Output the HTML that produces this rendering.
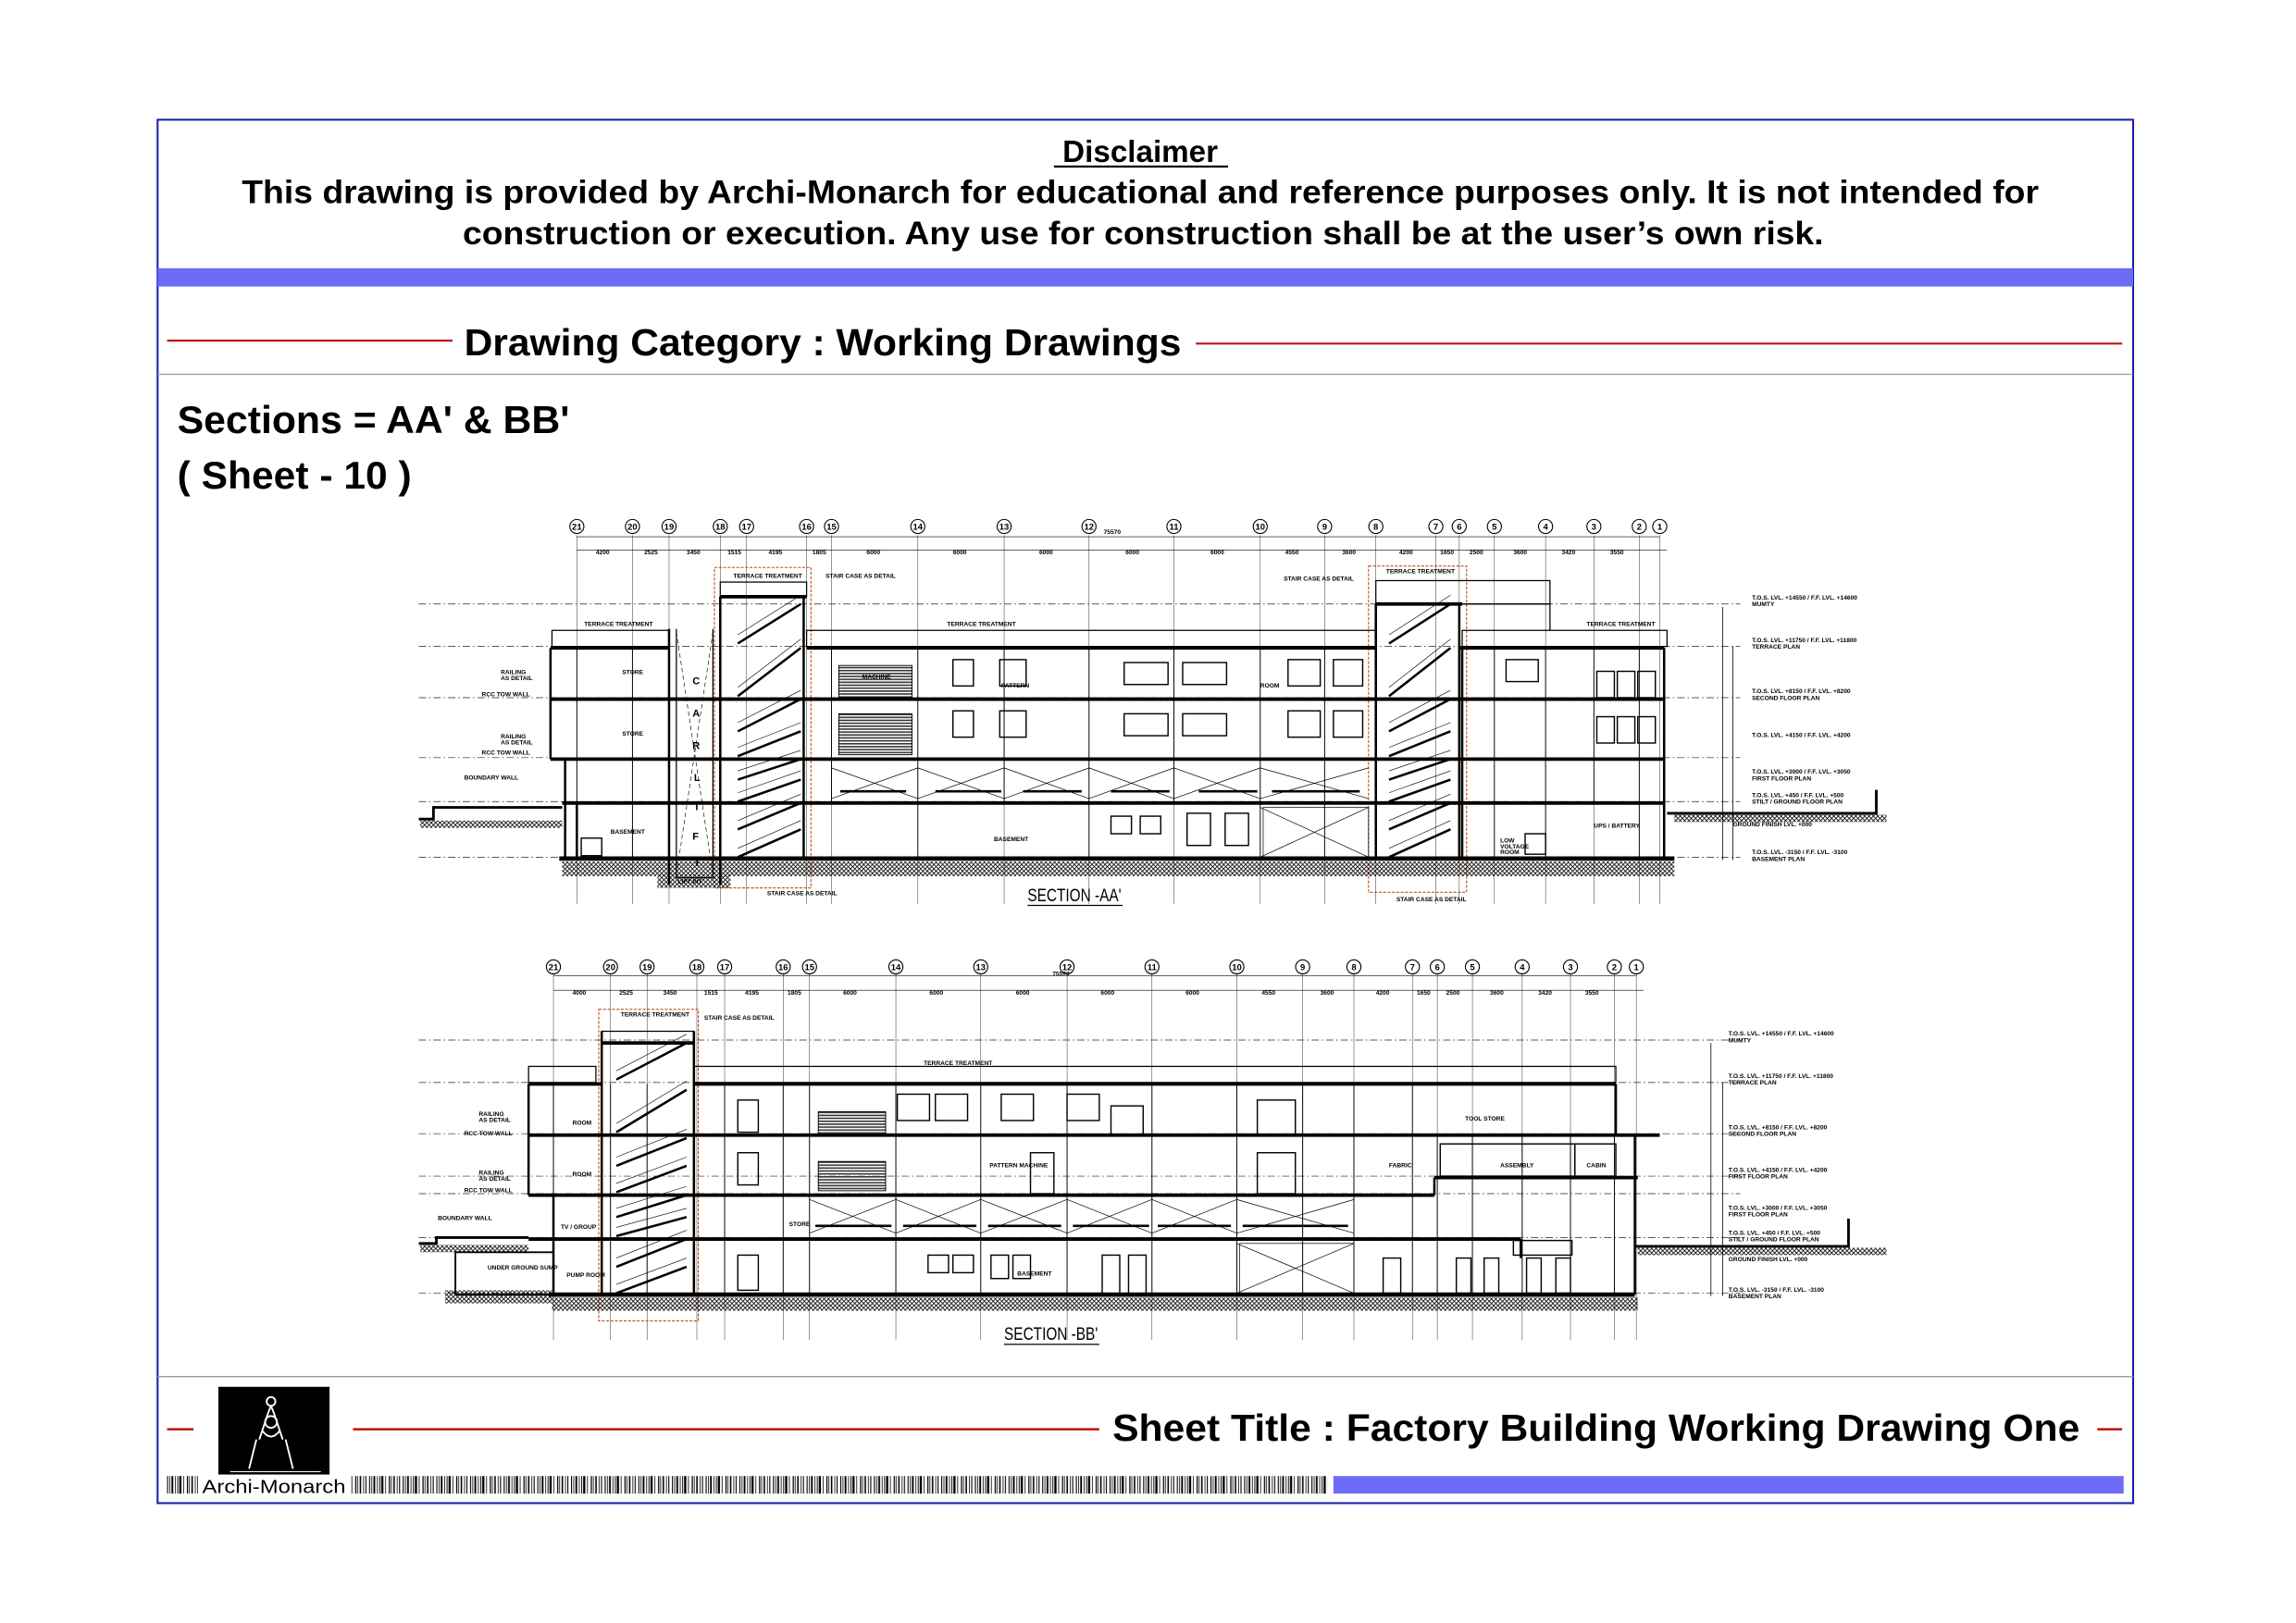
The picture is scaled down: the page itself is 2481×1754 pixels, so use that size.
<!DOCTYPE html>
<html><head><meta charset="utf-8"><style>
html,body{margin:0;padding:0;background:#fff;}
svg{display:block;}
text{font-family:"Liberation Sans",Arial,sans-serif;}
</style></head><body>
<svg width="2481" height="1754" viewBox="0.8 0.3 1569 1109" xmlns="http://www.w3.org/2000/svg">
<defs>
<pattern id="hatch" width="3" height="3" patternUnits="userSpaceOnUse">
<path d="M0,3 L3,0 M0,0 L3,3" stroke="#000" stroke-width="0.5"/>
</pattern>
<pattern id="bar" width="23" height="12" patternUnits="userSpaceOnUse">
<rect x="0" y="0" width="0.7" height="12" fill="#000"/><rect x="1.6" y="0" width="0.5" height="12" fill="#000"/>
<rect x="3" y="0" width="1.2" height="12" fill="#000"/><rect x="5.4" y="0" width="0.5" height="12" fill="#000"/>
<rect x="7" y="0" width="0.6" height="12" fill="#000"/><rect x="8.3" y="0" width="1.5" height="12" fill="#000"/>
<rect x="11" y="0" width="0.5" height="12" fill="#000"/><rect x="13.5" y="0" width="0.8" height="12" fill="#000"/>
<rect x="15" y="0" width="0.5" height="12" fill="#000"/><rect x="16.6" y="0" width="1" height="12" fill="#000"/>
<rect x="19" y="0" width="0.5" height="12" fill="#000"/><rect x="20.5" y="0" width="0.7" height="12" fill="#000"/>
</pattern>
<pattern id="louv" width="10" height="2" patternUnits="userSpaceOnUse">
<rect width="10" height="1" fill="#333"/>
</pattern>
</defs>

<!-- frame -->
<rect x="108.5" y="82" width="1350" height="945.5" fill="none" stroke="#1c1cb0" stroke-width="1.3"/>
<text x="780" y="111" font-size="21" font-weight="bold" text-anchor="middle">Disclaimer</text>
<line x1="721" y1="114" x2="840" y2="114" stroke="#000" stroke-width="1.4"/>
<text x="780" y="139" font-size="22.5" font-weight="bold" text-anchor="middle" textLength="1228" lengthAdjust="spacingAndGlyphs">This drawing is provided by Archi-Monarch for educational and reference purposes only. It is not intended for</text>
<text x="782" y="167" font-size="22.5" font-weight="bold" text-anchor="middle" textLength="930" lengthAdjust="spacingAndGlyphs">construction or execution. Any use for construction shall be at the user’s own risk.</text>
<rect x="108.5" y="183.5" width="1350" height="12.5" fill="#6b6bf6"/>
<line x1="115" y1="233" x2="310" y2="233" stroke="#c01010" stroke-width="1.4"/>
<text x="318" y="243" font-size="26" font-weight="bold" textLength="490" lengthAdjust="spacingAndGlyphs">Drawing Category : Working Drawings</text>
<line x1="818" y1="235" x2="1451" y2="235" stroke="#c01010" stroke-width="1.4"/>
<line x1="108.5" y1="256" x2="1458.5" y2="256" stroke="#999" stroke-width="0.8"/>
<text x="122" y="296" font-size="26.5" font-weight="bold" textLength="268" lengthAdjust="spacingAndGlyphs">Sections = AA' &amp; BB'</text>
<text x="122" y="334" font-size="26.5" font-weight="bold" textLength="160" lengthAdjust="spacingAndGlyphs">( Sheet - 10 )</text>

<!-- ================= SECTION AA ================= -->
<g fill="none" stroke="#000">
<g stroke="#222" stroke-width="0.45" stroke-dasharray="5 2 1 2">
<line x1="287" y1="413" x2="1190" y2="413"/><line x1="287" y1="442" x2="1190" y2="442"/>
<line x1="287" y1="477" x2="1190" y2="477"/><line x1="287" y1="518" x2="1190" y2="518"/>
<line x1="287" y1="548" x2="1190" y2="548"/><line x1="287" y1="586" x2="1190" y2="586"/>
</g>
<g stroke="#444" stroke-width="0.35">
<path d="M395 366V618M433 366V618M458 366V618M493 366V618M511 366V618M552 366V618M569 366V618M628 366V618M687 366V618M745 366V618M803 366V618M862 366V618M906 366V618M941 366V618M982 366V618M998 366V618M1022 366V618M1057 366V618M1090 366V618M1121 366V618M1135 366V618"/>
</g>
<g stroke-width="0.7">
<circle cx="395" cy="360" r="4.8"/><circle cx="433" cy="360" r="4.8"/><circle cx="458" cy="360" r="4.8"/><circle cx="493" cy="360" r="4.8"/><circle cx="511" cy="360" r="4.8"/><circle cx="552" cy="360" r="4.8"/><circle cx="569" cy="360" r="4.8"/><circle cx="628" cy="360" r="4.8"/><circle cx="687" cy="360" r="4.8"/><circle cx="745" cy="360" r="4.8"/><circle cx="803" cy="360" r="4.8"/><circle cx="862" cy="360" r="4.8"/><circle cx="906" cy="360" r="4.8"/><circle cx="941" cy="360" r="4.8"/><circle cx="982" cy="360" r="4.8"/><circle cx="998" cy="360" r="4.8"/><circle cx="1022" cy="360" r="4.8"/><circle cx="1057" cy="360" r="4.8"/><circle cx="1090" cy="360" r="4.8"/><circle cx="1121" cy="360" r="4.8"/><circle cx="1135" cy="360" r="4.8"/>
</g>
<line x1="395" y1="367" x2="1135" y2="367" stroke-width="0.4"/>
<line x1="395" y1="376" x2="1140" y2="376" stroke-width="0.4"/>
<g stroke="#c0501a" stroke-width="0.7" stroke-dasharray="2 1">
<rect x="489" y="388" width="66" height="219"/><rect x="936" y="387" width="67" height="223"/>
</g>
<g stroke-width="0.8">
<rect x="378" y="431" width="80" height="11"/><rect x="552" y="431" width="389" height="11"/><rect x="1000" y="431" width="140" height="11"/>
<rect x="493" y="398" width="59" height="10"/><rect x="941" y="397" width="119" height="16"/>
<line x1="1000" y1="413" x2="1060" y2="413"/><line x1="1060" y1="413" x2="1060" y2="431"/>
</g>
<g stroke-width="2.4">
<line x1="377" y1="443" x2="458" y2="443"/><line x1="552" y1="443" x2="941" y2="443"/><line x1="998" y1="443" x2="1138" y2="443"/>
<line x1="377" y1="478" x2="1138" y2="478"/><line x1="377" y1="519" x2="1138" y2="519"/>
<line x1="385" y1="549" x2="1138" y2="549"/>
<line x1="493" y1="408" x2="552" y2="408"/><line x1="941" y1="413" x2="1000" y2="413"/>
</g>
<line x1="383" y1="587" x2="1145" y2="587" stroke-width="3"/>
<rect x="385" y="589" width="760" height="10" fill="url(#hatch)" stroke="none"/>
<rect x="450" y="598" width="50" height="9" fill="url(#hatch)" stroke="none"/>
<g stroke-width="1.6">
<path d="M377 443V519M387 519V587M395 549V587M458 430V605M493 408V605M550 408V587M941 413V587M998 413V587M1138 443V587M1000 443V587"/>
<path d="M463 430V600H488V430" stroke-width="0.8"/>
</g>
<path d="M463 432L488 598M488 432L463 598" stroke-width="0.4" stroke-dasharray="3 2"/>
<g font-size="7" font-weight="bold" fill="#000" stroke="none">
<text x="474" y="468">C</text><text x="474" y="490">A</text><text x="474" y="512">R</text><text x="475" y="534">L</text><text x="476" y="554">I</text><text x="474" y="574">F</text><text x="475" y="592">T</text>
</g>
<g stroke-width="0.6">
<path d="M395 443V549M433 443V549M569 443V549M628 443V549M687 443V549M745 443V549M803 443V549M862 443V549M906 443V549M1022 443V587M1057 443V587M1090 443V549M1121 443V587M628 549V587M745 549V587M862 549V587M906 549V587M433 549V587"/>
</g>
<g stroke-width="1.6">
<path d="M505 440L548 413M505 476L548 443M505 500L548 478M505 517L548 500M505 533L548 519M505 548L548 533M505 567L548 549M505 586L548 567"/>
</g>
<g stroke-width="0.4">
<path d="M505 434L548 407M505 470L548 437M505 494L548 472M505 511L548 494M505 527L548 513M505 542L548 527M505 561L548 543M505 580L548 561"/>
</g>
<g stroke-width="1.6">
<path d="M950 440L992 413M950 476L992 443M950 500L992 478M950 517L992 500M950 533L992 519M950 548L992 533M950 567L992 549M950 586L992 567"/>
</g>
<g stroke-width="0.4">
<path d="M950 434L992 407M950 470L992 437M950 494L992 472M950 511L992 494M950 527L992 513M950 542L992 527M950 561L992 543M950 580L992 561"/>
</g>
<g stroke-width="0.9">
<rect x="652" y="451" width="14" height="18"/><rect x="684" y="451" width="18" height="18"/><rect x="769" y="453" width="30" height="15"/><rect x="809" y="453" width="30" height="15"/><rect x="881" y="451" width="22" height="18"/><rect x="912" y="451" width="20" height="18"/>
<rect x="652" y="486" width="14" height="18"/><rect x="684" y="486" width="18" height="18"/><rect x="769" y="488" width="30" height="15"/><rect x="809" y="488" width="30" height="15"/><rect x="881" y="486" width="22" height="18"/><rect x="912" y="486" width="20" height="18"/>
<rect x="1030" y="451" width="22" height="15"/><rect x="1092" y="459" width="12" height="18"/><rect x="1106" y="459" width="12" height="18"/><rect x="1120" y="459" width="12" height="18"/>
<rect x="1092" y="490" width="12" height="18"/><rect x="1106" y="490" width="12" height="18"/><rect x="1120" y="490" width="12" height="18"/>
<rect x="760" y="558" width="14" height="12"/><rect x="780" y="558" width="14" height="12"/><rect x="812" y="556" width="16" height="22"/><rect x="838" y="556" width="16" height="22"/>
<rect x="398" y="573" width="14" height="12"/><rect x="1043" y="570" width="14" height="14"/>
</g>
<rect x="574" y="455" width="50" height="22" fill="url(#louv)" stroke="#000" stroke-width="0.6"/>
<rect x="574" y="488" width="50" height="28" fill="url(#louv)" stroke="#000" stroke-width="0.6"/>
<g stroke-width="0.45">
<path d="M569 525L628 546M569 546L628 525M628 525L687 546M628 546L687 525M687 525L745 546M687 546L745 525M745 525L803 546M745 546L803 525M803 525L862 546M803 546L862 525M862 525L936 546M862 546L936 525M862 552L936 586M862 586L936 552"/>
<rect x="864" y="552" width="72" height="34"/>
</g>
<g stroke-width="1.6"><path d="M575 541H620M640 541H685M700 541H740M760 541H800M820 541H860M870 541H930"/></g>
<g stroke-width="1.8">
<path d="M287 560H297V552H385"/>
<path d="M1140 556H1283V540"/>
</g>
<rect x="288" y="561" width="97" height="5" fill="url(#hatch)" stroke="none"/>
<rect x="1145" y="557" width="145" height="5" fill="url(#hatch)" stroke="none"/>
<g stroke-width="0.5"><path d="M1178 415V588M1185 442V588"/></g>
</g>
<g font-size="4.2" font-weight="bold" fill="#000">
<text x="1198" y="410">T.O.S. LVL. +14550 / F.F. LVL. +14600</text><text x="1198" y="414.5">MUMTY</text>
<text x="1198" y="439">T.O.S. LVL. +11750 / F.F. LVL. +11800</text><text x="1198" y="443.5">TERRACE PLAN</text>
<text x="1198" y="474">T.O.S. LVL. +8150 / F.F. LVL. +8200</text><text x="1198" y="478.5">SECOND FLOOR PLAN</text>
<text x="1198" y="504">T.O.S. LVL. +4150 / F.F. LVL. +4200</text>
<text x="1198" y="529">T.O.S. LVL. +3000 / F.F. LVL. +3050</text><text x="1198" y="533.5">FIRST FLOOR PLAN</text>
<text x="1198" y="545">T.O.S. LVL. +450 / F.F. LVL. +500</text><text x="1198" y="549.5">STILT / GROUND FLOOR PLAN</text>
<text x="1198" y="584">T.O.S. LVL. -3150 / F.F. LVL. -3100</text><text x="1198" y="588.5">BASEMENT PLAN</text>
<text x="1185" y="565">GROUND FINISH LVL. +000</text>
<text x="343" y="461">RAILING</text><text x="343" y="465">AS DETAIL</text><text x="330" y="476">RCC TOW WALL</text>
<text x="343" y="505">RAILING</text><text x="343" y="509">AS DETAIL</text><text x="330" y="516">RCC TOW WALL</text>
<text x="318" y="533">BOUNDARY WALL</text>
<text x="400" y="428">TERRACE TREATMENT</text><text x="648" y="428">TERRACE TREATMENT</text><text x="1085" y="428">TERRACE TREATMENT</text>
<text x="502" y="395">TERRACE TREATMENT</text><text x="948" y="392">TERRACE TREATMENT</text>
<text x="565" y="395">STAIR CASE AS DETAIL</text><text x="878" y="397">STAIR CASE AS DETAIL</text>
<text x="426" y="461">STORE</text><text x="426" y="503">STORE</text><text x="418" y="570">BASEMENT</text>
<text x="590" y="464">MACHINE</text><text x="685" y="470">PATTERN</text><text x="862" y="470">ROOM</text>
<text x="1026" y="576">LOW</text><text x="1026" y="580">VOLTAGE</text><text x="1026" y="584">ROOM</text>
<text x="1090" y="566">UPS / BATTERY</text><text x="680" y="575">BASEMENT</text>
<text x="525" y="612">STAIR CASE AS DETAIL</text><text x="955" y="616">STAIR CASE AS DETAIL</text>
<text x="464" y="604">LIFT PIT</text>
<text x="755" y="365">75570</text>
</g>
<g font-size="4.2" fill="#000" font-weight="bold">
<text x="408" y="379">4200</text><text x="441" y="379">2525</text><text x="470" y="379">3450</text><text x="498" y="379">1515</text><text x="526" y="379">4195</text><text x="556" y="379">1805</text><text x="593" y="379">6000</text><text x="652" y="379">6000</text><text x="711" y="379">6000</text><text x="770" y="379">6000</text><text x="828" y="379">6000</text><text x="879" y="379">4550</text><text x="918" y="379">3600</text><text x="957" y="379">4200</text><text x="985" y="379">1650</text><text x="1005" y="379">2500</text><text x="1035" y="379">3600</text><text x="1068" y="379">3420</text><text x="1101" y="379">3550</text>
</g>
<g font-size="6" font-weight="bold" fill="#000" text-anchor="middle">
<text x="395" y="362.2">21</text><text x="433" y="362.2">20</text><text x="458" y="362.2">19</text><text x="493" y="362.2">18</text><text x="511" y="362.2">17</text><text x="552" y="362.2">16</text><text x="569" y="362.2">15</text><text x="628" y="362.2">14</text><text x="687" y="362.2">13</text><text x="745" y="362.2">12</text><text x="803" y="362.2">11</text><text x="862" y="362.2">10</text><text x="906" y="362.2">9</text><text x="941" y="362.2">8</text><text x="982" y="362.2">7</text><text x="998" y="362.2">6</text><text x="1022" y="362.2">5</text><text x="1057" y="362.2">4</text><text x="1090" y="362.2">3</text><text x="1121" y="362.2">2</text><text x="1135" y="362.2">1</text>
</g>
<text x="735" y="616" font-size="12" text-anchor="middle" textLength="64" lengthAdjust="spacingAndGlyphs">SECTION -AA'</text>
<line x1="703" y1="619" x2="768" y2="619" stroke="#000" stroke-width="0.8"/>

<!-- ================= SECTION BB ================= -->
<g fill="none" stroke="#000">
<g stroke="#222" stroke-width="0.45" stroke-dasharray="5 2 1 2">
<line x1="287" y1="711" x2="1190" y2="711"/><line x1="287" y1="740" x2="1190" y2="740"/>
<line x1="287" y1="775" x2="1190" y2="775"/><line x1="287" y1="804" x2="1190" y2="804"/>
<line x1="287" y1="816" x2="1190" y2="816"/><line x1="287" y1="846" x2="1190" y2="846"/>
<line x1="287" y1="884" x2="1190" y2="884"/>
</g>
<g stroke="#444" stroke-width="0.35">
<path d="M379 665V916M418 665V916M443 665V916M477 665V916M496 665V916M536 665V916M554 665V916M613 665V916M671 665V916M730 665V916M788 665V916M846 665V916M891 665V916M926 665V916M966 665V916M983 665V916M1007 665V916M1041 665V916M1074 665V916M1104 665V916M1119 665V916"/>
</g>
<g stroke-width="0.7">
<circle cx="379" cy="661" r="4.8"/><circle cx="418" cy="661" r="4.8"/><circle cx="443" cy="661" r="4.8"/><circle cx="477" cy="661" r="4.8"/><circle cx="496" cy="661" r="4.8"/><circle cx="536" cy="661" r="4.8"/><circle cx="554" cy="661" r="4.8"/><circle cx="613" cy="661" r="4.8"/><circle cx="671" cy="661" r="4.8"/><circle cx="730" cy="661" r="4.8"/><circle cx="788" cy="661" r="4.8"/><circle cx="846" cy="661" r="4.8"/><circle cx="891" cy="661" r="4.8"/><circle cx="926" cy="661" r="4.8"/><circle cx="966" cy="661" r="4.8"/><circle cx="983" cy="661" r="4.8"/><circle cx="1007" cy="661" r="4.8"/><circle cx="1041" cy="661" r="4.8"/><circle cx="1074" cy="661" r="4.8"/><circle cx="1104" cy="661" r="4.8"/><circle cx="1119" cy="661" r="4.8"/>
</g>
<line x1="379" y1="667" x2="1119" y2="667" stroke-width="0.4"/>
<line x1="379" y1="677" x2="1124" y2="677" stroke-width="0.4"/>
<rect x="410" y="690" width="68" height="213" stroke="#c0501a" stroke-width="0.7" stroke-dasharray="2 1"/>
<g stroke-width="0.8">
<rect x="362" y="729" width="46" height="11"/><rect x="475" y="729" width="630" height="11"/>
<rect x="412" y="705" width="63" height="8"/>
</g>
<g stroke-width="2.4">
<line x1="362" y1="741" x2="412" y2="741"/><line x1="475" y1="741" x2="1105" y2="741"/>
<line x1="362" y1="776" x2="1135" y2="776"/>
<line x1="362" y1="817" x2="981" y2="817"/><line x1="981" y1="805" x2="1120" y2="805"/>
<line x1="362" y1="847" x2="1040" y2="847"/>
<line x1="412" y1="713" x2="475" y2="713"/>
</g>
<line x1="376" y1="885" x2="1118" y2="885" stroke-width="3"/>
<rect x="378" y="887" width="742" height="9" fill="url(#hatch)" stroke="none"/>
<rect x="305" y="882" width="73" height="9" fill="url(#hatch)" stroke="none"/>
<g stroke-width="1.6">
<path d="M362 741V817M379 817V885M412 705V885M475 705V885M1105 741V776M1118 776V885M981 805V817M1040 847V860"/>
<path d="M312 856H379V885H312Z" stroke-width="1.2"/>
</g>
<g stroke-width="0.6">
<path d="M379 741V817M418 741V885M443 741V885M496 741V885M536 741V885M554 741V885M613 741V885M671 741V885M730 741V885M788 741V885M846 741V885M891 741V885M926 741V885M966 741V885M983 776V885M1007 776V885M1041 776V885M1074 776V885M1104 776V885"/>
</g>
<g stroke-width="1.6">
<path d="M422 738L470 713M422 774L470 745M422 797L470 778M422 815L470 797M422 832L470 817M422 845L470 832M422 866L470 847M422 884L470 866"/>
</g>
<g stroke-width="0.4">
<path d="M422 732L470 707M422 768L470 739M422 791L470 772M422 809L470 791M422 826L470 811M422 839L470 826M422 860L470 841M422 878L470 860"/>
</g>
<g stroke-width="0.9">
<rect x="505" y="752" width="14" height="22"/><rect x="505" y="788" width="14" height="22"/><rect x="505" y="858" width="14" height="24"/>
<rect x="614" y="748" width="22" height="18"/><rect x="640" y="748" width="22" height="18"/><rect x="685" y="748" width="22" height="18"/><rect x="730" y="748" width="22" height="18"/>
<rect x="760" y="756" width="22" height="20"/><rect x="860" y="752" width="26" height="24"/><rect x="860" y="788" width="26" height="28"/><rect x="705" y="788" width="16" height="28"/>
<rect x="635" y="858" width="14" height="12"/><rect x="652" y="858" width="14" height="12"/><rect x="678" y="858" width="12" height="16"/><rect x="693" y="858" width="12" height="16"/><rect x="754" y="858" width="12" height="28"/><rect x="772" y="858" width="12" height="28"/>
<rect x="946" y="860" width="12" height="24"/><rect x="996" y="860" width="10" height="24"/><rect x="1015" y="860" width="10" height="24"/><rect x="1044" y="860" width="10" height="24"/><rect x="1064" y="860" width="10" height="24"/>
<rect x="985" y="782" width="92" height="22"/><rect x="1077" y="782" width="28" height="22"/>
<rect x="1035" y="848" width="40" height="10"/>
</g>
<rect x="560" y="760" width="46" height="16" fill="url(#louv)" stroke="#000" stroke-width="0.6"/>
<rect x="560" y="794" width="46" height="20" fill="url(#louv)" stroke="#000" stroke-width="0.6"/>
<g stroke-width="0.45">
<path d="M554 820L613 843M554 843L613 820M613 820L671 843M613 843L671 820M671 820L730 843M671 843L730 820M730 820L788 843M730 843L788 820M788 820L846 843M788 843L846 820M846 820L926 843M846 843L926 820M846 850L926 884M846 884L926 850"/>
<rect x="848" y="850" width="78" height="34"/>
</g>
<g stroke-width="1.6"><path d="M558 838H610M618 838H668M676 838H726M734 838H786M792 838H842M850 838H922"/></g>
<g stroke-width="1.8">
<path d="M287 850H299V846H362"/>
<path d="M1118 852H1264V833"/>
</g>
<rect x="288" y="851" width="74" height="5" fill="url(#hatch)" stroke="none"/>
<rect x="1120" y="853" width="170" height="5" fill="url(#hatch)" stroke="none"/>
<g stroke-width="0.5"><path d="M1170 713V886M1178 740V886"/></g>
</g>
<g font-size="4.2" font-weight="bold" fill="#000">
<text x="1182" y="708">T.O.S. LVL. +14550 / F.F. LVL. +14600</text><text x="1182" y="712.5">MUMTY</text>
<text x="1182" y="737">T.O.S. LVL. +11750 / F.F. LVL. +11800</text><text x="1182" y="741.5">TERRACE PLAN</text>
<text x="1182" y="772">T.O.S. LVL. +8150 / F.F. LVL. +8200</text><text x="1182" y="776.5">SECOND FLOOR PLAN</text>
<text x="1182" y="801">T.O.S. LVL. +4150 / F.F. LVL. +4200</text><text x="1182" y="805.5">FIRST FLOOR PLAN</text>
<text x="1182" y="827">T.O.S. LVL. +3000 / F.F. LVL. +3050</text><text x="1182" y="831.5">FIRST FLOOR PLAN</text>
<text x="1182" y="844">T.O.S. LVL. +450 / F.F. LVL. +500</text><text x="1182" y="848.5">STILT / GROUND FLOOR PLAN</text>
<text x="1182" y="883">T.O.S. LVL. -3150 / F.F. LVL. -3100</text><text x="1182" y="887.5">BASEMENT PLAN</text>
<text x="1182" y="862">GROUND FINISH LVL. +000</text>
<text x="328" y="763">RAILING</text><text x="328" y="767">AS DETAIL</text><text x="318" y="776">RCC TOW WALL</text>
<text x="328" y="803">RAILING</text><text x="328" y="807">AS DETAIL</text><text x="318" y="815">RCC TOW WALL</text>
<text x="300" y="834">BOUNDARY WALL</text>
<text x="392" y="769">ROOM</text><text x="392" y="804">ROOM</text><text x="384" y="840">TV / GROUP</text><text x="388" y="873">PUMP ROOM</text>
<text x="334" y="868">UNDER GROUND SUMP</text>
<text x="425" y="695">TERRACE TREATMENT</text><text x="632" y="728">TERRACE TREATMENT</text><text x="482" y="697">STAIR CASE AS DETAIL</text>
<text x="677" y="798">PATTERN MACHINE</text><text x="1002" y="766">TOOL STORE</text><text x="950" y="798">FABRIC</text><text x="1026" y="798">ASSEMBLY</text><text x="1085" y="798">CABIN</text>
<text x="696" y="872">BASEMENT</text><text x="540" y="838">STORE</text>
<text x="720" y="667">75570</text>
</g>
<g font-size="4.2" fill="#000" font-weight="bold">
<text x="392" y="680">4000</text><text x="424" y="680">2525</text><text x="454" y="680">3450</text><text x="482" y="680">1515</text><text x="510" y="680">4195</text><text x="539" y="680">1805</text><text x="577" y="680">6000</text><text x="636" y="680">6000</text><text x="695" y="680">6000</text><text x="753" y="680">6000</text><text x="811" y="680">6000</text><text x="863" y="680">4550</text><text x="903" y="680">3600</text><text x="941" y="680">4200</text><text x="969" y="680">1650</text><text x="989" y="680">2500</text><text x="1019" y="680">3600</text><text x="1052" y="680">3420</text><text x="1084" y="680">3550</text>
</g>
<g font-size="6" font-weight="bold" fill="#000" text-anchor="middle">
<text x="379" y="663.2">21</text><text x="418" y="663.2">20</text><text x="443" y="663.2">19</text><text x="477" y="663.2">18</text><text x="496" y="663.2">17</text><text x="536" y="663.2">16</text><text x="554" y="663.2">15</text><text x="613" y="663.2">14</text><text x="671" y="663.2">13</text><text x="730" y="663.2">12</text><text x="788" y="663.2">11</text><text x="846" y="663.2">10</text><text x="891" y="663.2">9</text><text x="926" y="663.2">8</text><text x="966" y="663.2">7</text><text x="983" y="663.2">6</text><text x="1007" y="663.2">5</text><text x="1041" y="663.2">4</text><text x="1074" y="663.2">3</text><text x="1104" y="663.2">2</text><text x="1119" y="663.2">1</text>
</g>
<text x="719" y="916" font-size="12" text-anchor="middle" textLength="64" lengthAdjust="spacingAndGlyphs">SECTION -BB'</text>
<line x1="687" y1="919" x2="752" y2="919" stroke="#000" stroke-width="0.8"/>

<!-- ================= FOOTER ================= -->
<line x1="108.5" y1="941" x2="1458.5" y2="941" stroke="#999" stroke-width="0.8"/>
<line x1="115" y1="977" x2="133" y2="977" stroke="#c01010" stroke-width="1.6"/>
<rect x="150" y="948" width="76" height="60" fill="#000"/>
<g stroke="#fff" stroke-width="1.2" fill="none">
<circle cx="186" cy="958" r="3"/>
<path d="M186 961L184 966M186 961L188 966M184 966L178 984M188 966L194 984M176 984L171 1004M196 984L201 1004M180 978Q186 986 192 978"/>
<circle cx="186" cy="972" r="4"/>
<line x1="158" y1="1006" x2="220" y2="1006" stroke-width="0.6"/>
</g>
<line x1="242" y1="977" x2="752" y2="977" stroke="#c01010" stroke-width="1.6"/>
<text x="761" y="985" font-size="26" font-weight="bold" textLength="661" lengthAdjust="spacingAndGlyphs">Sheet Title : Factory Building Working Drawing One</text>
<line x1="1434" y1="977" x2="1451" y2="977" stroke="#c01010" stroke-width="1.6"/>
<rect x="114" y="1009" width="794" height="12" fill="url(#bar)"/>
<rect x="136" y="1008" width="104" height="14" fill="#fff"/>
<text x="139" y="1020.5" font-size="13" textLength="98" lengthAdjust="spacingAndGlyphs">Archi-Monarch</text>
<rect x="912" y="1009" width="540" height="12" fill="#6b6bf6"/>
</svg>
</body></html>
